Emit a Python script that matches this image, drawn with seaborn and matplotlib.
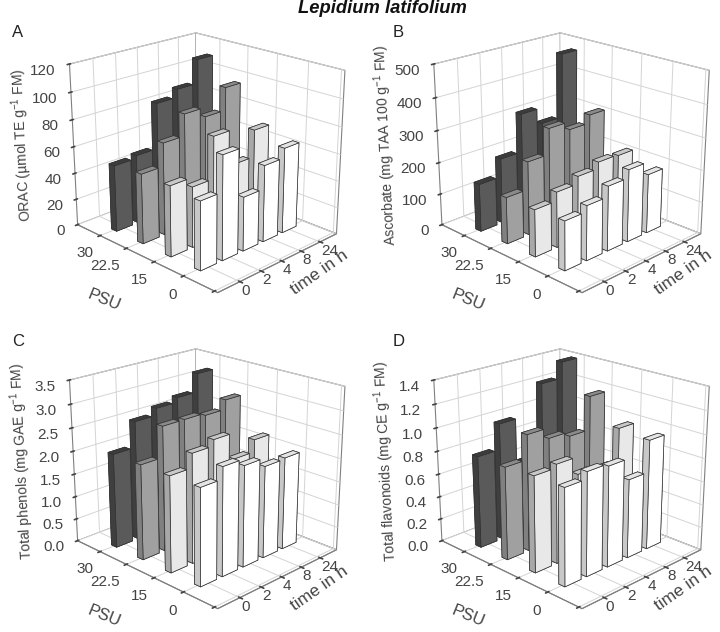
import matplotlib
matplotlib.use("Agg")
import matplotlib.pyplot as plt
import seaborn as sns

sns.set_theme(style="whitegrid", rc={
    "font.family": "Liberation Sans",
    "mathtext.default": "regular",
    "grid.color": "#d4d4d4",
    "grid.linewidth": 0.7,
    "axes.edgecolor": "#808080",
    "text.color": "#444444",
    "axes.labelcolor": "#444444",
    "xtick.color": "#444444",
    "ytick.color": "#444444",
})

PSU_LABELS = ["30", "22.5", "15", "0"]
TIME_LABELS = ["0", "2", "4", "8", "24"]

ORAC_30 = [50, 52, 86, 92, 110]
ORAC_22 = [52, 69, 85, 78, 95]
ORAC_15 = [52, 45, 76, 50, 70]
ORAC_0 = [50, 76, 40, 57, 64]

ASC_30 = [150, 206, 325, 275, 475]
ASC_22 = [145, 230, 310, 285, 310]
ASC_15 = [145, 172, 195, 215, 212]
ASC_0 = [150, 168, 200, 225, 185]

PHE_30 = [2.05, 2.6, 2.75, 2.85, 3.25]
PHE_22 = [2.05, 2.7, 2.7, 2.65, 2.85]
PHE_15 = [2.05, 2.35, 2.48, 1.92, 2.18]
PHE_0 = [2.05, 2.3, 2.16, 1.98, 2.0]

FLA_30 = [0.8, 1.02, 0.63, 1.26, 1.4]
FLA_22 = [0.8, 1.01, 0.92, 0.88, 1.17]
FLA_15 = [0.82, 0.85, 0.7, 0.68, 0.97]
FLA_0 = [0.82, 0.88, 0.86, 0.68, 0.95]

# one colour set per PSU row: bottom/top, narrow side, wide side
ROW_COLORS = [
    {"top": "#3c3c3c", "narrow": "#3f3f3f", "wide": "#5a5a5a"},
    {"top": "#8a8a8a", "narrow": "#808080", "wide": "#a0a0a0"},
    {"top": "#c8c8c8", "narrow": "#a8a8a8", "wide": "#e8e8e8"},
    {"top": "#e4e4e4", "narrow": "#c8c8c8", "wide": "#ffffff"},
]


def draw_panel(rect, rows, ztop, zticks, zfmt, zlabel):
    ax = fig.add_axes(rect, projection="3d", computed_zorder=False)
    ax.set_proj_type("persp", focal_length=0.6)
    ax.view_init(elev=21, azim=-45)
    ax.set_box_aspect((1, 0.85, 0.85), zoom=1.0)
    ax.patch.set_alpha(0)

    for i, row in enumerate(rows):
        c = ROW_COLORS[i]
        for j, val in enumerate(row):
            faces = [c["top"], c["top"], c["narrow"], c["narrow"], c["wide"], c["wide"]]
            bar = ax.bar3d(i - 0.1, j - 0.37, 0, 0.2, 0.74, val, color=faces,
                           shade=False, edgecolor="#333333", linewidth=0.5)
            # back rows first, front rows last
            bar.set_zorder(10 + i * 5 - j)

    ax.set_xlim(-0.9, 4.1)
    ax.set_ylim(-1.0, 4.9)
    ax.set_zlim(0, ztop)
    ax.set_xticks(range(5))
    ax.set_xticklabels(PSU_LABELS + [""], fontsize=11, ha="right")
    ax.set_yticks(range(5))
    ax.set_yticklabels(TIME_LABELS, fontsize=11, ha="left")
    ax.set_zticks(zticks)
    ax.set_zticklabels([zfmt.format(z) for z in zticks], fontsize=11, ha="right")
    ax.zaxis.set_ticks_position("lower")
    ax.zaxis.set_label_position("lower")
    ax.tick_params(axis="x", pad=-2)
    ax.tick_params(axis="y", pad=-7)
    ax.tick_params(axis="z", pad=-2)

    for axis in (ax.xaxis, ax.yaxis, ax.zaxis):
        axis.set_pane_color((1, 1, 1, 1))
        axis.pane.set_edgecolor("#808080")
        axis.pane.set_linewidth(0.8)
        axis.line.set_color("#808080")
        axis.line.set_linewidth(0.8)
        axis.set_rotate_label(False)

    ax.set_zlabel(zlabel, fontsize=10, rotation=93, labelpad=2)
    # the 3d axis labels sit at the middle of the edge, these do not
    ax.text2D(0.184, 0.03, "PSU", transform=ax.transAxes, fontsize=12, rotation=-22,
              ha="center", va="center")
    ax.text2D(0.88, 0.119, "time in h", transform=ax.transAxes, fontsize=12.5, rotation=35,
              ha="center", va="center")
    return ax


fig = plt.figure(figsize=(7.2, 6.32), dpi=100)

draw_panel([0.03, 0.51, 0.5, 0.49], [ORAC_30, ORAC_22, ORAC_15, ORAC_0], 120,
           [0, 20, 40, 60, 80, 100, 120], "{:d}", "ORAC (µmol TE g$^{-1}$ FM)")
draw_panel([0.536, 0.51, 0.5, 0.49], [ASC_30, ASC_22, ASC_15, ASC_0], 500,
           [0, 100, 200, 300, 400, 500], "{:d}", "Ascorbate (mg TAA 100 g$^{-1}$ FM)")
draw_panel([0.03, 0.01, 0.5, 0.49], [PHE_30, PHE_22, PHE_15, PHE_0], 3.5,
           [0, 0.5, 1, 1.5, 2, 2.5, 3, 3.5], "{:.1f}", "Total phenols (mg GAE g$^{-1}$ FM)")
draw_panel([0.536, 0.01, 0.5, 0.49], [FLA_30, FLA_22, FLA_15, FLA_0], 1.4,
           [0, 0.2, 0.4, 0.6, 0.8, 1, 1.2, 1.4], "{:.1f}", "Total flavonoids (mg CE g$^{-1}$ FM)")

fig.text(0.531, 0.986, "Lepidium latifolium", ha="center", va="center", fontsize=13.2,
         fontweight="bold", fontstyle="italic", color="#111111")
for letter, x, y in [("A", 0.025, 0.948), ("B", 0.553, 0.948), ("C", 0.025, 0.459), ("D", 0.553, 0.459)]:
    fig.text(x, y, letter, ha="center", va="center", fontsize=12, color="#222222")

fig.savefig("out.png", dpi=100)
